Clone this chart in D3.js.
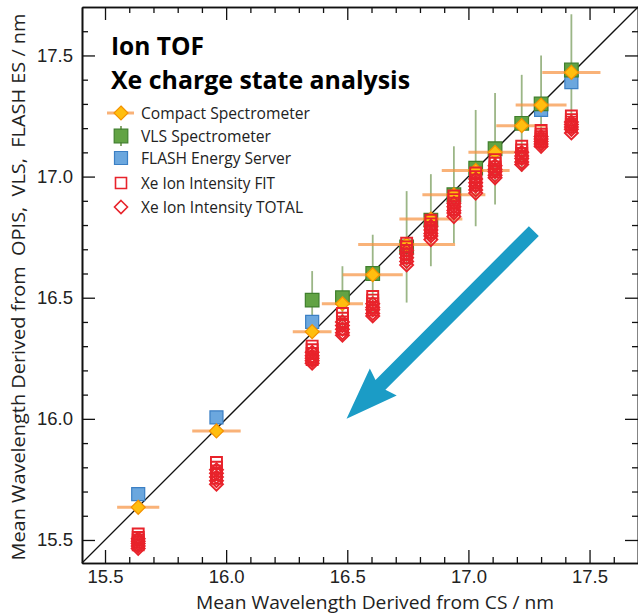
<!DOCTYPE html>
<html>
<head>
<meta charset="utf-8">
<script src="https://cdn.jsdelivr.net/npm/d3@7"></script>
<style>
  body { margin: 0; background: #fff; }
  svg { display: block; font-family: "Open Sans", sans-serif; }
</style>
</head>
<body>
<svg id="chart" width="638" height="613"></svg>
<script>
// Mean wavelength from the Compact Spectrometer (x) and its spread
const csWavelength = [15.637, 15.96, 16.355, 16.48, 16.605, 16.745, 16.845, 16.94, 17.03, 17.11, 17.22, 17.30, 17.425];
const csError      = [0.087, 0.10, 0.08, 0.085, 0.124, 0.2, 0.13, 0.13, 0.14, 0.11, 0.105, 0.105, 0.12];
// Compact Spectrometer reading plotted on the vertical axis
const csReading    = [15.635, 15.95, 16.36, 16.475, 16.595, 16.72, 16.825, 16.925, 17.025, 17.10, 17.21, 17.295, 17.43];
// VLS spectrometer (null = no measurement)
const vlsWavelength = [null, null, 16.49, 16.50, 16.60, 16.71, 16.82, 16.925, 17.035, 17.115, 17.22, 17.30, 17.44];
const vlsError      = [null, null, 0.12, 0.13, 0.16, 0.23, 0.19, 0.2, 0.24, 0.23, 0.2, 0.2, 0.23];
// FLASH energy server
const flashWavelength = [15.689, 16.006, 16.40, null, null, null, null, null, null, null, null, 17.275, 17.39];
// Xe ion intensity analysis, several charge states per wavelength
const xeFit = [
  [15.525, 15.51, 15.50, 15.49, 15.48],
  [15.82, 15.80, 15.785, 15.77, 15.755],
  [16.30, 16.285, 16.27, 16.255, 16.245],
  [16.435, 16.415, 16.40, 16.385, 16.37],
  [16.505, 16.49, 16.475, 16.46, 16.45],
  [16.725, 16.71, 16.695, 16.68, 16.665],
  [16.82, 16.805, 16.79, 16.78, 16.77],
  [16.92, 16.905, 16.89, 16.875, 16.865],
  [17.015, 17.0, 16.985, 16.975, 16.965],
  [17.07, 17.055, 17.04, 17.03, 17.02],
  [17.125, 17.11, 17.095, 17.085, 17.075],
  [17.19, 17.175, 17.165, 17.155, 17.145],
  [17.25, 17.235, 17.225, 17.215, 17.205]
];
const xeTotal = [
  [15.505, 15.495, 15.485, 15.475, 15.465],
  [15.79, 15.775, 15.76, 15.745, 15.73],
  [16.275, 16.26, 16.25, 16.24, 16.23],
  [16.40, 16.385, 16.37, 16.355, 16.345],
  [16.475, 16.46, 16.45, 16.435, 16.425],
  [16.695, 16.68, 16.665, 16.65, 16.635],
  [16.795, 16.78, 16.765, 16.755, 16.74],
  [16.89, 16.875, 16.86, 16.85, 16.835],
  [16.99, 16.975, 16.96, 16.945, 16.932],
  [17.045, 17.03, 17.02, 17.005, 16.995],
  [17.10, 17.085, 17.075, 17.06, 17.05],
  [17.165, 17.155, 17.145, 17.135, 17.125],
  [17.225, 17.215, 17.205, 17.195, 17.18]
];
const majorTicks = [15.5, 16.0, 16.5, 17.0, 17.5];
const tickLabels = ["15.5", "16.0", "16.5", "17.0", "17.5"];
const minorTicks = [15.6, 15.7, 15.8, 15.9, 16.1, 16.2, 16.3, 16.4, 16.6, 16.7, 16.8, 16.9, 17.1, 17.2, 17.3, 17.4, 17.6];
const legendLabels = ["Compact Spectrometer", "VLS Spectrometer", "FLASH Energy Server", "Xe Ion Intensity FIT", "Xe Ion Intensity TOTAL"];
const titleLines = ["Ion TOF", "Xe charge state analysis"];
// trend arrow, from tail to tip, in nm
const trendArrow = [[17.27, 16.775], [16.497, 16.0]];

const C = {
  green: "#62a344", greenEdge: "#3f7f2c", greenBar: "#7a9e5e",
  blue: "#6ba7de", blueEdge: "#3b7fc4",
  gold: "#ffbe0f", goldEdge: "#f39200", orangeBar: "rgba(246,146,62,0.7)",
  red: "#e8232b", teal: "#1b9cc6"
};

const svg = d3.select("#chart");
const x = d3.scaleLinear([15.405, 17.70], [82, 638]);
const y = d3.scaleLinear([15.405, 17.70], [563, 7]);

const diamond = r => `M0,${-r}L${r},0L0,${r}L${-r},0Z`;
const square = s => `M${-s},${-s}H${s}V${s}H${-s}Z`;

// y = x reference line
svg.append("line")
  .attr("x1", x(15.405)).attr("y1", y(15.405))
  .attr("x2", x(17.70)).attr("y2", y(17.70))
  .attr("stroke", "#111").attr("stroke-width", 1.3);

const idx = d3.range(csWavelength.length);

// VLS error bars
svg.append("g").selectAll("line").data(idx.filter(i => vlsWavelength[i] != null)).join("line")
  .attr("x1", i => x(csWavelength[i])).attr("x2", i => x(csWavelength[i]))
  .attr("y1", i => y(vlsWavelength[i] - vlsError[i])).attr("y2", i => y(vlsWavelength[i] + vlsError[i]))
  .attr("stroke", C.greenBar).attr("stroke-width", 1.8).attr("opacity", 0.75);

// FLASH energy server
svg.append("g").selectAll("path").data(idx.filter(i => flashWavelength[i] != null)).join("path")
  .attr("transform", i => `translate(${x(csWavelength[i])},${y(flashWavelength[i])})`)
  .attr("d", square(6.5)).attr("fill", C.blue).attr("stroke", C.blueEdge).attr("stroke-width", 1.2);

// VLS spectrometer
svg.append("g").selectAll("path").data(idx.filter(i => vlsWavelength[i] != null)).join("path")
  .attr("transform", i => `translate(${x(csWavelength[i])},${y(vlsWavelength[i])})`)
  .attr("d", square(6.8)).attr("fill", C.green).attr("stroke", C.greenEdge).attr("stroke-width", 1.2);

// Compact spectrometer spread
svg.append("g").selectAll("line").data(idx).join("line")
  .attr("x1", i => x(csWavelength[i] - csError[i])).attr("x2", i => x(csWavelength[i] + csError[i]))
  .attr("y1", i => y(csReading[i])).attr("y2", i => y(csReading[i]))
  .attr("stroke", C.orangeBar).attr("stroke-width", 3);

// Compact spectrometer
svg.append("g").selectAll("path").data(idx).join("path")
  .attr("transform", i => `translate(${x(csWavelength[i])},${y(csReading[i])})`)
  .attr("d", diamond(7)).attr("fill", C.gold).attr("stroke", C.goldEdge).attr("stroke-width", 1.2);

// Xe ion intensity markers
const fitPts = idx.flatMap(i => xeFit[i].map(v => [csWavelength[i], v]));
const totPts = idx.flatMap(i => xeTotal[i].map(v => [csWavelength[i], v]));
svg.append("g").selectAll("path").data(fitPts).join("path")
  .attr("transform", d => `translate(${x(d[0])},${y(d[1])})`)
  .attr("d", square(5.5)).attr("fill", "none").attr("stroke", C.red).attr("stroke-width", 1.9);
svg.append("g").selectAll("path").data(totPts).join("path")
  .attr("transform", d => `translate(${x(d[0])},${y(d[1])})`)
  .attr("d", diamond(6.5)).attr("fill", "none").attr("stroke", C.red).attr("stroke-width", 1.9);

// Axes: inward ticks on all four sides
function styleAxis(g) {
  g.select(".domain").attr("stroke", "#111").attr("stroke-width", 1.6);
  g.selectAll(".tick line").attr("stroke", "#111").attr("stroke-width", 1.3);
  g.selectAll(".tick text").attr("fill", "#222").attr("font-size", 18.5);
}
const fmt = d => tickLabels[majorTicks.indexOf(d)];
const sides = [
  [d3.axisBottom(x), `translate(0,${y.range()[0]})`, true, 7],
  [d3.axisTop(x), `translate(0,${y.range()[1]})`, false, 7],
  [d3.axisLeft(y), `translate(${x.range()[0]},0)`, true, 9],
  [d3.axisRight(y), `translate(${x.range()[1]},0)`, false, 9]
];
sides.forEach(([ax, tr, labelled, pad]) => {
  svg.append("g").attr("transform", tr)
    .call(ax.tickValues(minorTicks).tickSizeInner(-6).tickSizeOuter(0))
    .call(styleAxis)
    .call(g => g.selectAll(".tick text").remove());
  const g = svg.append("g").attr("transform", tr)
    .call(ax.tickValues(majorTicks).tickSizeInner(-13).tickSizeOuter(0).tickPadding(pad).tickFormat(fmt))
    .call(styleAxis);
  if (!labelled) g.selectAll(".tick text").remove();
});

// Axis titles
svg.append("text").attr("x", 375).attr("y", 608.5).attr("text-anchor", "middle")
  .attr("font-size", 18).attr("fill", "#222")
  .attr("textLength", 358).attr("lengthAdjust", "spacingAndGlyphs")
  .text("Mean Wavelength Derived from CS / nm");
svg.append("text").attr("transform", "translate(25,287) rotate(-90)").attr("text-anchor", "middle")
  .attr("font-size", 19).attr("fill", "#222").style("white-space", "pre")
  .attr("textLength", 547).attr("lengthAdjust", "spacingAndGlyphs")
  .text("Mean Wavelength Derived from  OPIS,  VLS,  FLASH ES / nm");

// Trend arrow
{
  const [t0, t1] = trendArrow;
  const ax0 = x(t0[0]), ay0 = y(t0[1]), ax1 = x(t1[0]), ay1 = y(t1[1]);
  const len = Math.hypot(ax1 - ax0, ay1 - ay0);
  const ang = Math.atan2(ay1 - ay0, ax1 - ax0) * 180 / Math.PI;
  const sw = 7, hw = 19, hl = 52, notch = 4;
  const p = [[0, -sw], [len - hl + notch, -sw], [len - hl, -hw], [len, 0], [len - hl, hw], [len - hl + notch, sw], [0, sw]];
  svg.append("path")
    .attr("transform", `translate(${ax0},${ay0}) rotate(${ang})`)
    .attr("d", "M" + p.map(q => q.join(",")).join("L") + "Z")
    .attr("fill", C.teal);
}

// Two-line title block
svg.append("text").attr("x", 111).attr("y", 55).attr("font-size", 24.5).attr("font-weight", 700)
  .attr("fill", "#000").attr("textLength", 93).attr("lengthAdjust", "spacingAndGlyphs").text(titleLines[0]);
svg.append("text").attr("x", 111).attr("y", 88.5).attr("font-size", 24.5).attr("font-weight", 700)
  .attr("fill", "#000").attr("textLength", 299).attr("lengthAdjust", "spacingAndGlyphs").text(titleLines[1]);

// Legend
const legY = [113, 136, 158, 183, 207];
const lg = svg.append("g");
const lx = 121;
lg.append("line").attr("x1", lx - 14).attr("x2", lx + 13).attr("y1", legY[0]).attr("y2", legY[0])
  .attr("stroke", C.orangeBar).attr("stroke-width", 3);
lg.append("path").attr("transform", `translate(${lx},${legY[0]})`).attr("d", diamond(7))
  .attr("fill", C.gold).attr("stroke", C.goldEdge).attr("stroke-width", 1.2);
lg.append("line").attr("x1", lx).attr("x2", lx).attr("y1", legY[1] - 10).attr("y2", legY[1] + 10)
  .attr("stroke", C.greenBar).attr("stroke-width", 1.8);
lg.append("path").attr("transform", `translate(${lx},${legY[1]})`).attr("d", square(6.8))
  .attr("fill", C.green).attr("stroke", C.greenEdge).attr("stroke-width", 1.2);
lg.append("path").attr("transform", `translate(${lx},${legY[2]})`).attr("d", square(6.5))
  .attr("fill", C.blue).attr("stroke", C.blueEdge).attr("stroke-width", 1.2);
lg.append("path").attr("transform", `translate(${lx},${legY[3]})`).attr("d", square(5.5))
  .attr("fill", "none").attr("stroke", C.red).attr("stroke-width", 1.6);
lg.append("path").attr("transform", `translate(${lx},${legY[4]})`).attr("d", diamond(6.5))
  .attr("fill", "none").attr("stroke", C.red).attr("stroke-width", 1.6);
const legW = [169, 130, 150, 134, 162];
lg.selectAll("text").data(legendLabels).join("text")
  .attr("x", 141).attr("y", (d, i) => legY[i] + 6)
  .attr("font-size", 17).attr("fill", "#222")
  .attr("textLength", (d, i) => legW[i]).attr("lengthAdjust", "spacingAndGlyphs")
  .text(d => d);
</script>
</body>
</html>
